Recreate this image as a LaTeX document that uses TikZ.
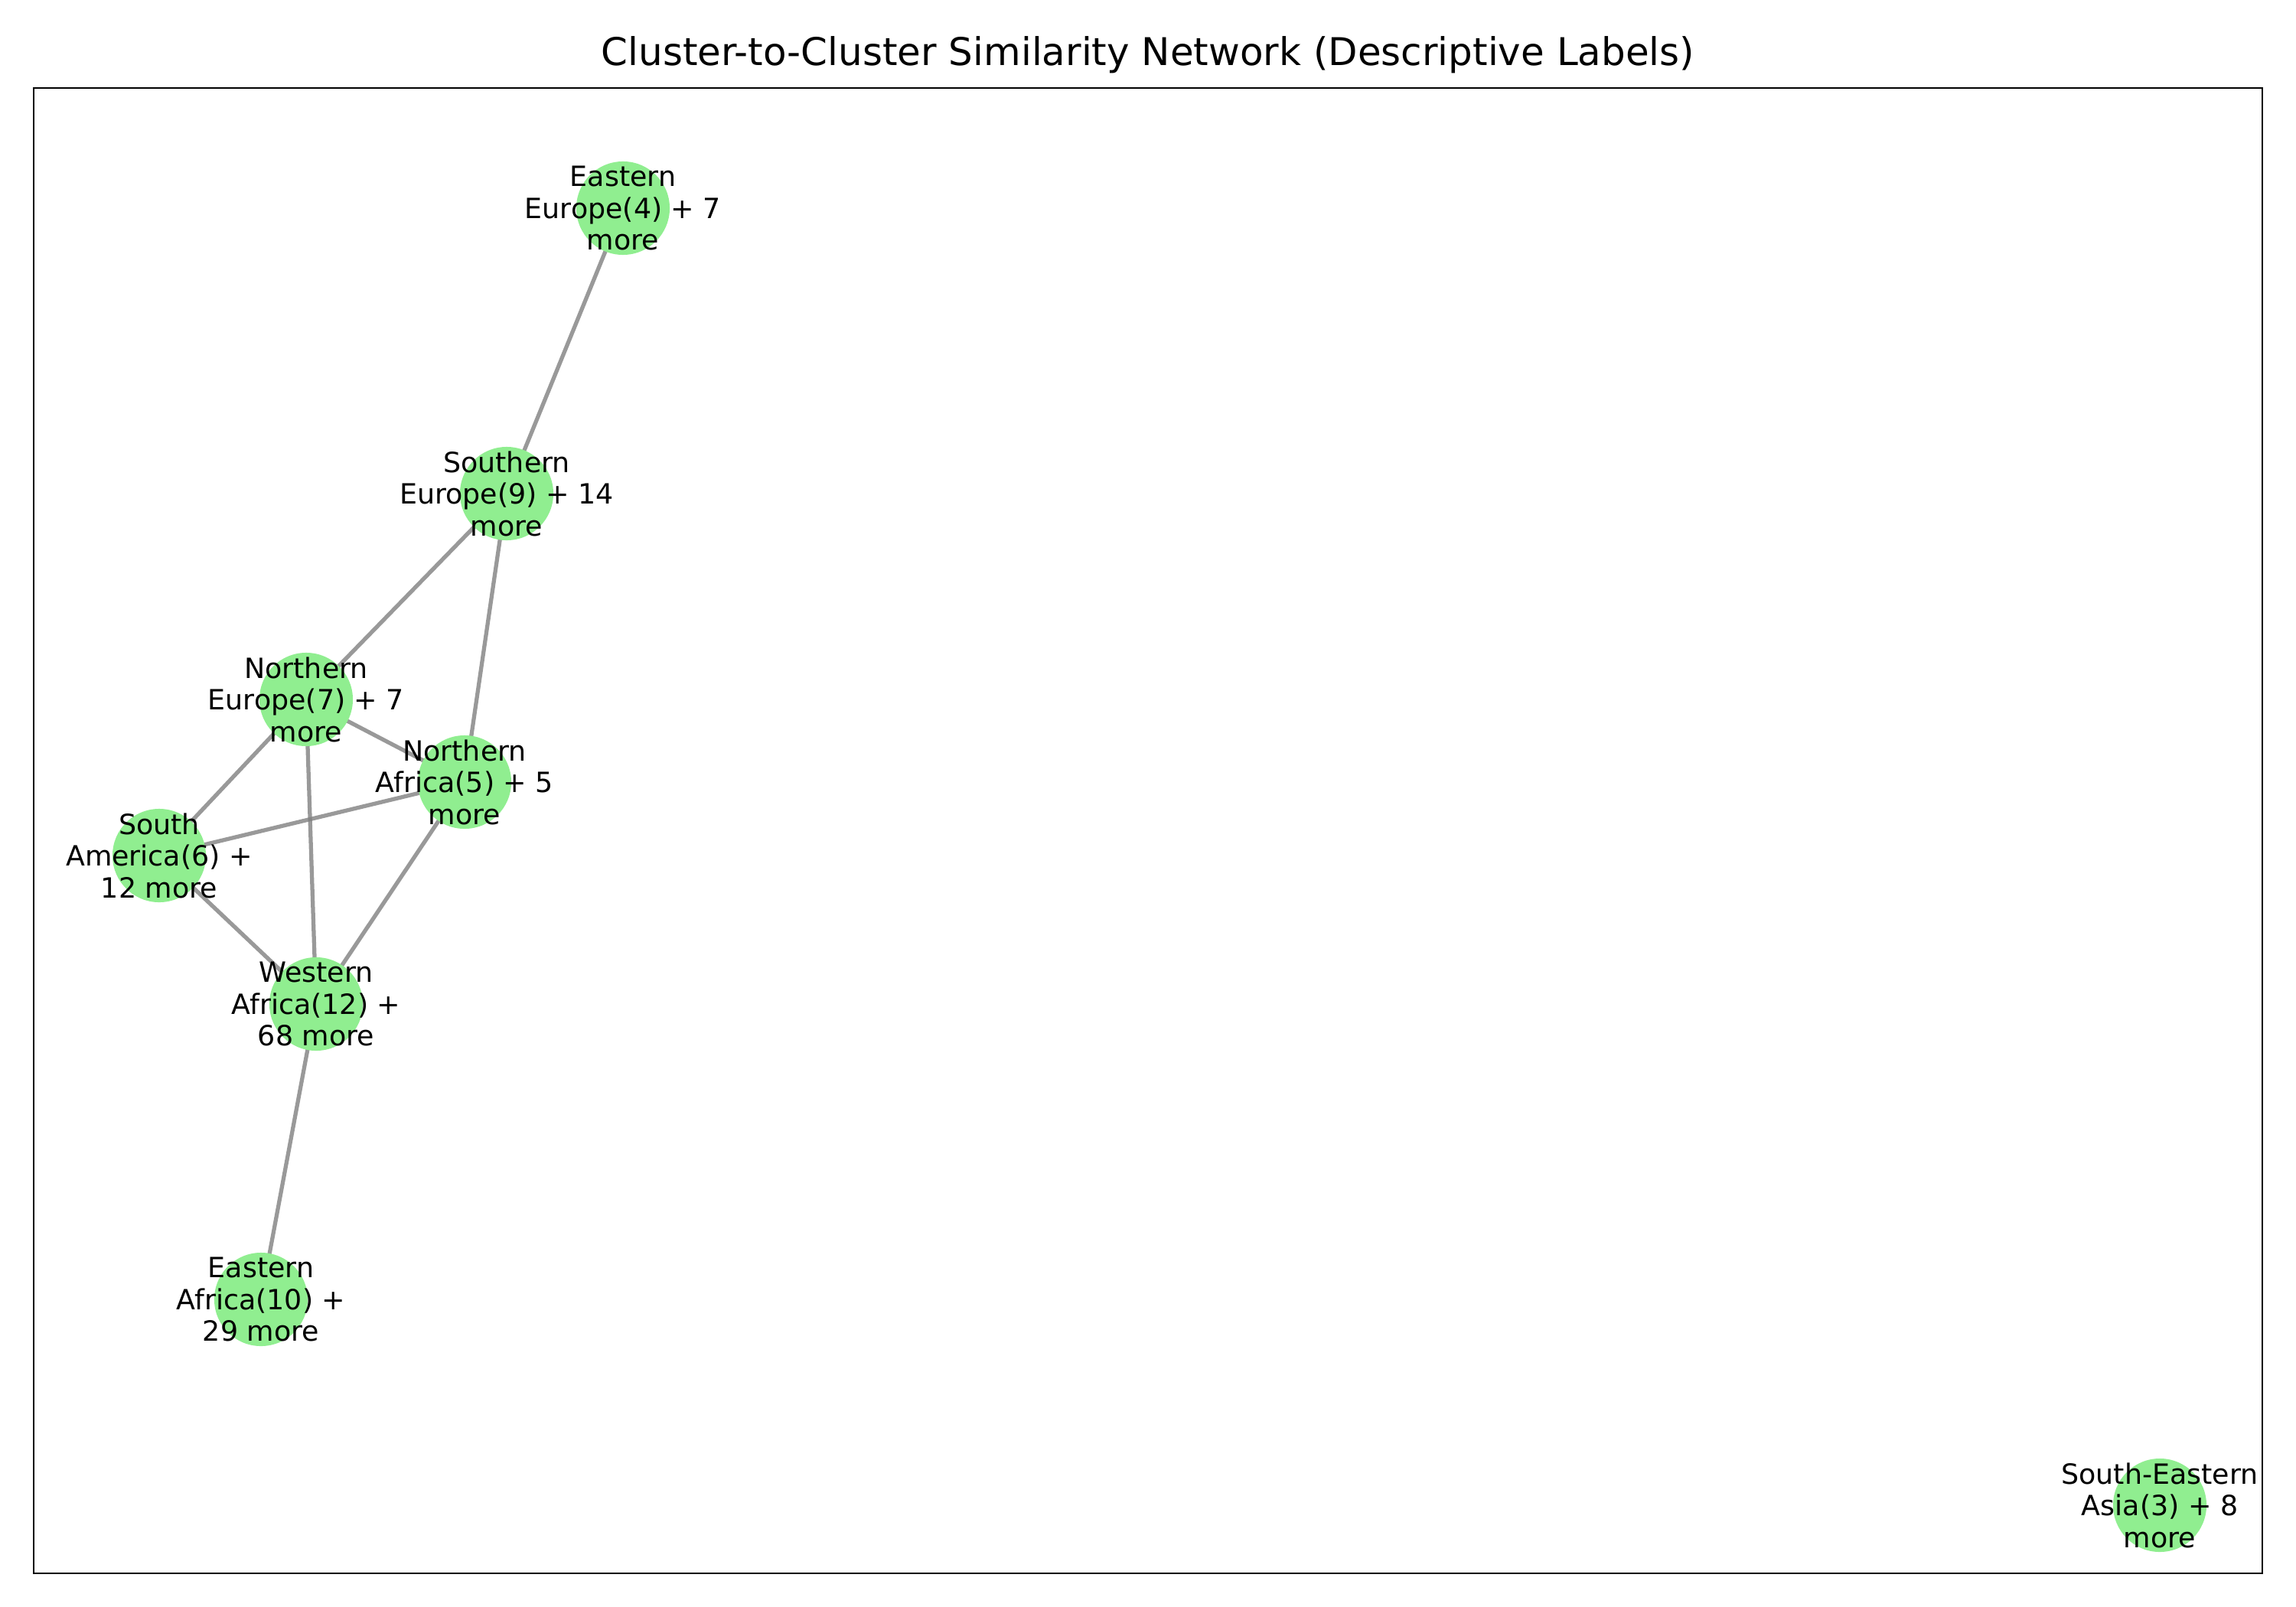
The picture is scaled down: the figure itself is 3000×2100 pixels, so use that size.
\documentclass[tikz,border=0pt]{standalone}
\usepackage{fontspec}
\setmainfont{DejaVu Sans}
\pgfdeclarelayer{bg}
\pgfsetlayers{bg,main}
\definecolor{nodegreen}{HTML}{90EE90}
\tikzset{
  dot/.style={circle, fill=nodegreen, draw=none, minimum size=1.22cm, inner sep=0pt},
  lbl/.style={align=center, font=\fontsize{10.35}{11.8}\selectfont, inner sep=0pt, text=black},
  edge/.style={draw=gray, opacity=0.8, line width=1.5pt},
  frame/.style={draw=black, line width=0.8pt}
}
\begin{document}
\begin{tikzpicture}[x=0.01cm, y=-0.01cm]
\useasboundingbox (0,0) rectangle (3000,2100);
\node[font=\fontsize{14.2}{16}\selectfont, anchor=base] (title) at (1500,86) {Cluster-to-Cluster Similarity Network (Descriptive Labels)};
\draw[frame] (44,115) rectangle (2956,2056);
% nodes
\node[dot] (ee) at (814,272) {};
\node[dot] (se) at (662,645) {};
\node[dot] (ne) at (400,914) {};
\node[dot] (na) at (607,1022) {};
\node[dot] (sa) at (208,1118) {};
\node[dot] (wa) at (413,1312) {};
\node[dot] (ea) at (341,1698) {};
\node[dot] (sea) at (2822,1967) {};
% edges
\begin{pgfonlayer}{bg}
\draw[edge] (ee.center) -- (se.center);
\draw[edge] (se.center) -- (ne.center);
\draw[edge] (se.center) -- (na.center);
\draw[edge] (ne.center) -- (na.center);
\draw[edge] (ne.center) -- (sa.center);
\draw[edge] (ne.center) -- (wa.center);
\draw[edge] (na.center) -- (sa.center);
\draw[edge] (na.center) -- (wa.center);
\draw[edge] (sa.center) -- (wa.center);
\draw[edge] (wa.center) -- (ea.center);
\end{pgfonlayer}
% labels
\node[lbl] (ee-l) at (ee) {Eastern\\Europe(4) + 7\\more};
\node[lbl] (se-l) at (se) {Southern\\Europe(9) + 14\\more};
\node[lbl] (ne-l) at (ne) {Northern\\Europe(7) + 7\\more};
\node[lbl] (na-l) at (na) {Northern\\Africa(5) + 5\\more};
\node[lbl] (sa-l) at (sa) {South\\America(6) +\\12 more};
\node[lbl] (wa-l) at (wa) {Western\\Africa(12) +\\68 more};
\node[lbl] (ea-l) at (ea) {Eastern\\Africa(10) +\\29 more};
\node[lbl] (sea-l) at (sea) {South-Eastern\\Asia(3) + 8\\more};
\end{tikzpicture}
\end{document}
